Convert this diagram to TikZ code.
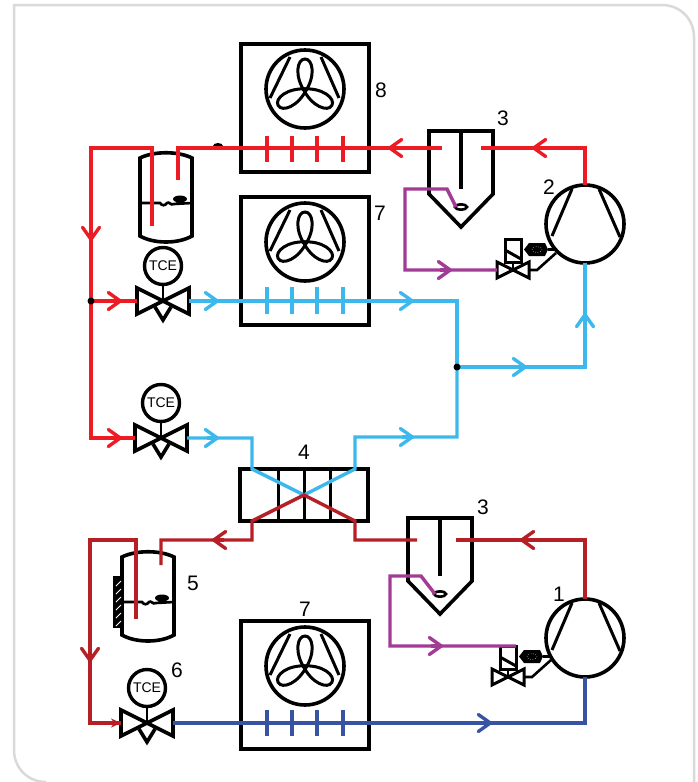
\documentclass[tikz,border=0pt]{standalone}
\usepackage{xcolor}
\usepackage{fontspec}
\setmainfont{Liberation Sans}
\usetikzlibrary{calc,arrows.meta}

\definecolor{framegray}{HTML}{D9D9D9}
\definecolor{pipered}{HTML}{ED1C24}
\definecolor{pipesky}{HTML}{3DB8EC}
\definecolor{pipemaroon}{HTML}{B71F27}
\definecolor{pipenavy}{HTML}{3953A4}
\definecolor{pipeplum}{HTML}{A23B94}

\tikzset{
	kit/.style={draw=black,line width=3.6pt},
	thinkit/.style={draw=black,line width=2.6pt},
	redpipe/.style={draw=pipered,line width=3.4pt},
	skypipe/.style={draw=pipesky,line width=3.4pt},
	maroonpipe/.style={draw=pipemaroon,line width=3.4pt},
	navypipe/.style={draw=pipenavy,line width=3.4pt},
	plumpipe/.style={draw=pipeplum,line width=3.4pt},
	flow/.style={-{Straight Barb[length=12pt,width=17pt,round]}},
	smallflow/.style={-{Stealth[length=10pt,width=9pt]}},
	tag/.style={inner sep=0pt,font=\fontsize{21}{21}\selectfont},
	gaugetext/.style={inner sep=0pt,font=\fontsize{14}{14}\selectfont},
	compressor/.pic={
		\draw[kit] (0,0) circle (39);
		\draw[kit,line width=3pt] (-13,-35) -- (-33,12);
		\draw[kit,line width=3pt] (14,-35) -- (35,13);
		\coordinate (-top) at (0,-39);
		\coordinate (-bottom) at (0,39);
	},
	fanbox/.pic={
		\draw[kit] (-64,-64) rectangle (64,64);
		\draw[kit] (0,-19) circle (39);
		\draw[kit,line width=3pt] (-15,-51) -- (-35,-10);
		\draw[kit,line width=3pt] (16,-51) -- (34,-10);
		\foreach \leafangle in {0,120,240}
			\draw[kit,line width=3pt,rotate around={\leafangle:(0,-18)}] (0,-16) .. controls (-11,-32) and (-8,-49) .. (0,-49) .. controls (8,-49) and (11,-32) .. (0,-16);
	},
	receiver/.pic={
		\draw[kit] (-26,-45) .. controls (-12,-52) and (12,-52) .. (26,-45) -- (26,33) .. controls (12,41) and (-12,41) .. (-26,33) -- cycle;
		\draw[thinkit] (-26,0) -- (-6,0) .. controls (-4,3) and (-1,3) .. (1,0) .. controls (3,-2) and (5,3) .. (8,1) -- (26,0);
		\fill[black] (14,-4) ellipse (7 and 3.5);
		\fill[black] (14,-1) ellipse (4 and 2);
	},
	tcevalve/.pic={
		\draw[kit] (-26,-13) -- (26,13) -- (26,-13) -- (-26,13) -- cycle;
		\draw[kit] (-8,6) -- (0,19) -- (8,6);
		\draw[thinkit] (0,0) -- (0,-15);
		\node[draw,line width=3.4pt,circle,minimum size=37pt,inner sep=0pt,gaugetext] (-gauge) at (0,-35) {TCE};
		\coordinate (-in) at (-26,0);
		\coordinate (-out) at (26,0);
	},
	oilvalve/.pic={
		\draw[thinkit,line width=3pt] (-16,-8) -- (16,8) -- (16,-8) -- (-16,8) -- cycle;
		\draw[thinkit] (0,0) -- (0,-8);
		\draw[kit,line width=3pt] (-8,-31) rectangle (8,-8);
		\draw[kit,line width=3pt] (-8,-20) -- (8,-11);
		\fill[black] (11,-20.5) -- (16,-27) -- (32,-27) -- (35,-20.5) -- (32,-14) -- (16,-14) -- cycle;
		\draw[white,line width=0.5pt,dotted] (24,-20.5) ellipse (5 and 3);
		\draw[thinkit] (35,-20.5) -- (42,-20.5);
		\draw[thinkit] (16,0) -- (24,0) -- (43,-17);
		\coordinate (-in) at (-16,0);
		\coordinate (-box) at (8,-31);
	},
	separator/.pic={
		\draw[kit,line join=miter] (-32,0) -- (32,0) -- (32,63) -- (0,96) -- (-32,63) -- cycle;
		\draw[kit] (0,0) -- (0,58);
		\draw[thinkit] (0,76) ellipse (6 and 2.6);
		\coordinate (-bleed) at (-5,76);
	}
}

\begin{document}
\begin{tikzpicture}[x=1pt,y=-1pt]

	\useasboundingbox (0,0) rectangle (698,782);
	\draw[framegray,line width=2.5pt] (694,782) -- (694,37) .. controls (694,19) and (680,5) .. (662,5) -- (14,5) -- (14,750) .. controls (14,768) and (28,782) .. (46,782);

	% equipment
	\pic (fan8) at (305,108) {fanbox};
	\pic (fan7) at (305,261) {fanbox};
	\pic (fan7b) at (305,685) {fanbox};
	\pic (comp2) at (585,224) {compressor};
	\pic (comp1) at (585,638) {compressor};
	\pic (sepup) at (461,131) {separator};
	\pic (seplow) at (440,518) {separator};
	\pic (recup) at (166,203) {receiver};
	\pic (reclow) at (148,602) {receiver};
	\pic (tceup) at (163,301) {tcevalve};
	\pic (tcemid) at (161,438) {tcevalve};
	\pic (tcelow) at (147,723) {tcevalve};
	\pic (oilup) at (513,270) {oilvalve};
	\pic (oillow) at (508,677) {oilvalve};

	% exchanger 4
	\draw[kit] (240,469) rectangle (368,521);
	\foreach \divx in {278,304,330}
		\draw[kit,line width=3pt] (\divx,469) -- (\divx,521);

	% wall bracket of the lower receiver
	\fill[black] (113,576) rectangle (121,628);
	\foreach \hatchy in {586,594,602,610,618,626}
		\draw[white,line width=1pt] (116,\hatchy) -- (121,\hatchy-5);

	\fill[black] (218,146) ellipse (5 and 3);

	% points on the pipes
	\coordinate (juncleft) at (91,301);
	\coordinate (juncright) at (457,367);
	\coordinate (mixx) at (304,495);
	\coordinate (recupin) at (178,180);
	\coordinate (recupout) at (152,226);
	\coordinate (reclowin) at (161,565);
	\coordinate (reclowout) at (136,619);
	\coordinate (sepupin) at (481,148);
	\coordinate (sepupout) at (442,148);
	\coordinate (seplowin) at (456,540);
	\coordinate (seplowout) at (417,540);

	% high stage
	\draw[redpipe] (comp2-top) |- (sepupin);
	\draw[redpipe] (sepupout) -| (recupin);
	\draw[redpipe] (recupout) |- (91,148) |- (tcemid-in);
	\draw[redpipe] (juncleft) -- (tceup-in);
	\foreach \tickx in {267,292,317,343}
		\draw[redpipe] (\tickx,136) -- (\tickx,162);
	\foreach \tipx/\tipy/\dirx/\diry in {532/148/12/0,388/148/12/0,91/241/0/-12,122/301/-12/0,122/438/-12/0}
		\draw[redpipe,flow] ($(\tipx,\tipy)+(\dirx,\diry)$) -- (\tipx,\tipy);

	% cold side
	\draw[skypipe] (tceup-out) -| (juncright);
	\draw[skypipe] (juncright) -| (comp2-bottom);
	\draw[skypipe] (juncright) |- (355,437) -- (355,469) -- (mixx) -- (252,469) |- (tcemid-out);
	\foreach \tickx in {267,292,317,343}
		\draw[skypipe] (\tickx,287) -- (\tickx,314);
	\foreach \tipx/\tipy/\dirx/\diry in {219/301/-12/0,414/301/-12/0,527/367/-12/0,585/313/0/12,219/438/-12/0,414/437/-12/0}
		\draw[skypipe,flow] ($(\tipx,\tipy)+(\dirx,\diry)$) -- (\tipx,\tipy);

	% low stage
	\draw[maroonpipe] (comp1-top) |- (seplowin);
	\draw[maroonpipe] (seplowout) -| (355,521) -- (mixx) -- (252,521) -- (252,540) -| (reclowin);
	\draw[maroonpipe] (reclowout) |- (90,540) |- (tcelow-in);
	\foreach \tipx/\tipy/\dirx/\diry in {520/540/12/0,212/540/12/0,90/662/0/-12}
		\draw[maroonpipe,flow] ($(\tipx,\tipy)+(\dirx,\diry)$) -- (\tipx,\tipy);
	\draw[maroonpipe,smallflow] (105,723) -- (tcelow-in);

	\draw[navypipe] (tcelow-out) -| (comp1-bottom);
	\foreach \tickx in {267,292,317,343}
		\draw[navypipe] (\tickx,710) -- (\tickx,736);
	\draw[navypipe,flow] (480,723) -- (492,723);

	% oil return
	\draw[plumpipe] (sepup-bleed) -- (447,189) -- (405,189) |- (oilup-in);
	\draw[plumpipe,flow] (440,270) -- (452,270);
	\draw[plumpipe] (seplow-bleed) -- (421,576) -- (390,576) |- (oillow-box);
	\draw[plumpipe,flow] (431,646) -- (443,646);

	% junctions
	\fill[black] (juncleft) circle (3.5);
	\fill[black] (juncright) circle (3.5);

	% labels
	\node[tag] (lab8) at (381,90) {8};
	\node[tag] (lab3up) at (503,118) {3};
	\node[tag] (lab2) at (549,187) {2};
	\node[tag] (lab7up) at (380,213) {7};
	\node[tag] (lab4) at (304,452) {4};
	\node[tag] (lab3low) at (483,507) {3};
	\node[tag] (lab5) at (193,583) {5};
	\node[tag] (lab1) at (559,594) {1};
	\node[tag] (lab7low) at (305,609) {7};
	\node[tag] (lab6) at (177,670) {6};

\end{tikzpicture}
\end{document}
